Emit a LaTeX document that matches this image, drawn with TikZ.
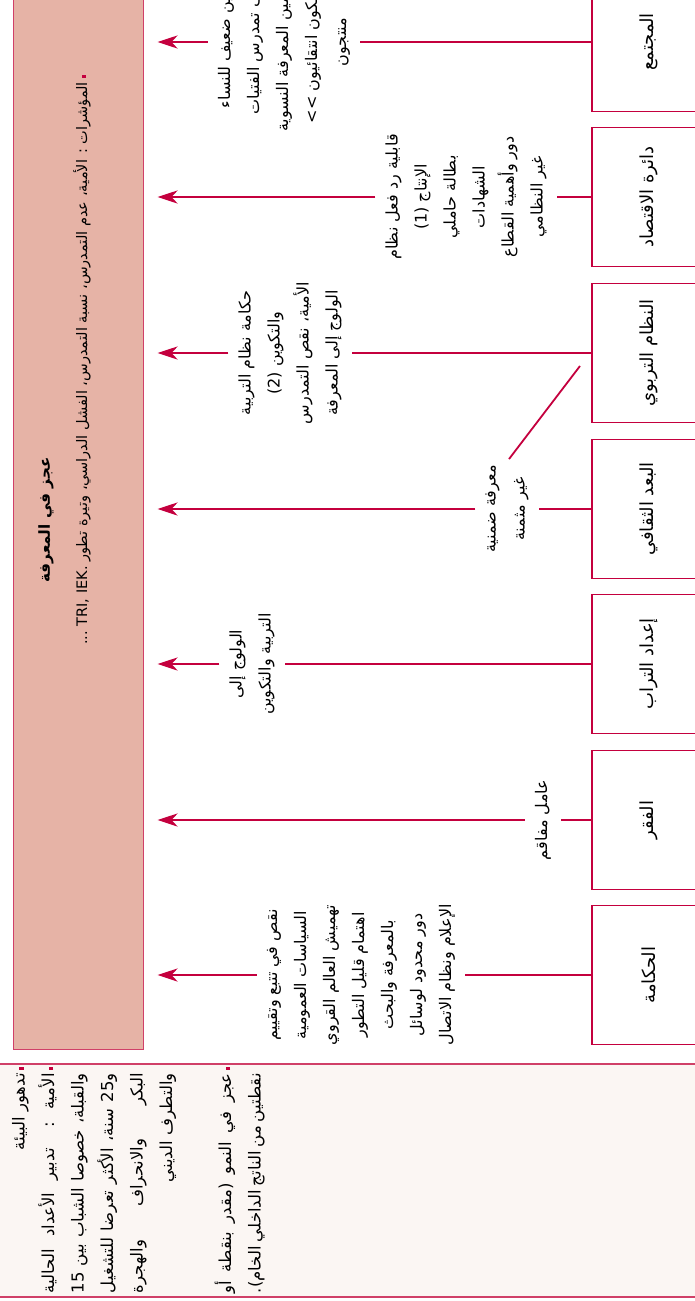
\documentclass[tikz,border=0pt]{standalone}
\usepackage{fontspec}
\usetikzlibrary{arrows.meta,calc}
\newfontfamily\arabicfont[Script=Arabic]{DejaVu Sans}
\TeXXeTstate=1
\definecolor{crimson}{RGB}{196,0,62}
\definecolor{rose}{RGB}{208,64,104}
\definecolor{salmon}{RGB}{230,179,166}
\definecolor{paper}{RGB}{251,246,243}
\newcommand{\artext}[1]{\beginR #1\endR}
\newcommand{\sq}{{\color{crimson}\rule[1pt]{3pt}{4.5pt}}}
\newcommand{\fullline}[1]{\hbox to 220pt{\artext{#1}}}
\newcommand{\lastline}[1]{\hbox to 220pt{\hfill\artext{#1}}}

\begin{document}
\begin{tikzpicture}[x=10pt,y=10pt,
    box/.style={draw=crimson, line width=1.2pt, fill=white, rotate=90,
        minimum width=139pt, minimum height=114pt,
        font=\arabicfont\fontsize{18}{20}\selectfont},
    lbl/.style={rotate=90, align=center, inner xsep=2pt, inner ysep=10pt,
        font=\arabicfont\fontsize{16}{29}\selectfont},
    note/.style={rotate=90, align=left, inner sep=0pt,
        font=\arabicfont\fontsize{16.5}{29.5}\selectfont},
    link/.style={crimson, line width=2.8pt},
    arrow/.style={link, -{Stealth[length=20pt,width=13pt,inset=6pt]}, shorten >=14pt},
    sink/.style={draw=rose, line width=1pt, fill=salmon, minimum width=130pt, minimum height=1058pt},
    panel/.style={draw=rose, line width=1.3pt, fill=paper}
  ]
    \useasboundingbox (0,0) rectangle (69.4,-130.1);
    % left strip with the remarks
    \draw [panel] (-1,-106.4) rectangle (70.4,-129.7);
    \node [note, anchor=north east] (notes) at (1.2,-107.3) {%
        \lastline{تدهور البيئة}\rlap{\hspace{3pt}\sq}\\
        \fullline{الأمية : تدبير الأعداد الحالية}\rlap{\hspace{3pt}\sq}\\
        \fullline{والقبلة، خصوصا الشباب بين 15}\\
        \fullline{و25 سنة، الأكثر تعرضا للتشغيل}\\
        \fullline{البكر والانحراف والهجرة}\\
        \lastline{والتطرف الديني}\\[29.5pt]
        \fullline{عجز في النمو (مقدر بنقطة أو}\rlap{\hspace{3pt}\sq}\\
        \lastline{نقطتين من الناتج الداخلي الخام).}};
    % the knowledge gap
    \node [sink] (gap) at (7.8,-52.0) {};
    \node [rotate=90, font=\arabicfont\bfseries\fontsize{15.2}{17}\selectfont] (title) at (4.6,-52.0)
        {\artext{عجز في المعرفة}};
    \node [rotate=90, anchor=east, inner sep=0pt, font=\arabicfont\fontsize{14.5}{16}\selectfont] (ind) at (8.2,-7.5)
        {\artext{المؤشرات : الأمية، عدم التمدرس، نسبة التمدرس، الفشل الدراسي، وتيرة تطور \beginL TRI, IEK.\endL{} ...}\hspace{4pt}\sq};
    % sectors
    \node [box] (soc) at (64.9,-4.2) {\artext{المجتمع}};
    \node [box] (eco) at (64.9,-19.7) {\artext{دائرة الاقتصاد}};
    \node [box] (edu) at (64.9,-35.3) {\artext{النظام التربوي}};
    \node [box] (cul) at (64.9,-50.9) {\artext{البعد الثقافي}};
    \node [box] (ter) at (64.9,-66.4) {\artext{إعداد التراب}};
    \node [box] (pov) at (64.9,-82.0) {\artext{الفقر}};
    \node [box] (gov) at (64.9,-97.5) {\artext{الحكامة}};
    % causes
    \node [lbl] (lsoc) at (28.4,-4.2) {\artext{تكوين ضعيف للنساء}\\\artext{ضعف تمدرس الفتيات}\\
        \artext{عدم تثمين المعرفة النسوية}\\\artext{مستهلكون انتقائيون >>}\\\artext{منتجون}};
    \node [lbl] (leco) at (46.6,-19.7) {\artext{قابلية رد فعل نظام}\\\artext{الإنتاج (1)}\\\artext{بطالة حاملي}\\
        \artext{الشهادات}\\\artext{دور وأهمية القطاع}\\\artext{غير النظامي}};
    \node [lbl] (ledu) at (29.0,-35.3) {\artext{حكامة نظام التربية}\\\artext{والتكوين (2)}\\
        \artext{الأمية، نقص التمدرس}\\\artext{الولوج إلى المعرفة}};
    \node [lbl] (lcul) at (50.7,-50.9) {\artext{معرفة ضمنية}\\\artext{غير مثمنة}};
    \node [lbl] (lter) at (25.2,-66.4) {\artext{الولوج إلى}\\\artext{التربية والتكوين}};
    \node [lbl] (lpov) at (54.3,-82.0) {\artext{عامل مفاقم}};
    \node [lbl] (lgov) at (36.1,-97.5) {\artext{نقص في تتبع وتقييم}\\\artext{السياسات العمومية}\\
        \artext{تهميش العالم القروي}\\\artext{اهتمام قليل التطور}\\\artext{بالمعرفة والبحث}\\
        \artext{دور محدود لوسائل}\\\artext{الإعلام ونظام الاتصال}};
    % connectors
    \draw [link] (soc) -- (lsoc);
    \draw [arrow] (lsoc) -- (lsoc -| gap.east);
    \draw [link] (eco) -- (leco);
    \draw [arrow] (leco) -- (leco -| gap.east);
    \draw [link] (edu) -- (ledu);
    \draw [arrow] (ledu) -- (ledu -| gap.east);
    \draw [link] (cul) -- (lcul);
    \draw [arrow] (lcul) -- (lcul -| gap.east);
    \draw [link] (ter) -- (lter);
    \draw [arrow] (lter) -- (lter -| gap.east);
    \draw [link] (pov) -- (lpov);
    \draw [arrow] (lpov) -- (lpov -| gap.east);
    \draw [link] (gov) -- (lgov);
    \draw [arrow] (lgov) -- (lgov -| gap.east);
    \coordinate (fork) at (58.0,-36.6);
    \draw [link, line width=1.8pt] (fork) -- ($(lcul.east)+(0.2,0.4)$);
\end{tikzpicture}
\end{document}
